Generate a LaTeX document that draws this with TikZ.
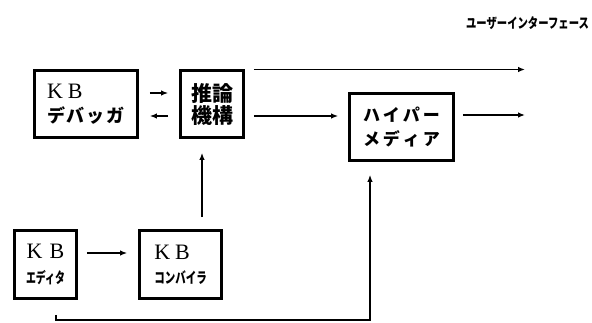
\documentclass[tikz,border=0pt]{standalone}
\usepackage{fontspec}
\usepackage{graphicx}
\usetikzlibrary{arrows.meta}
\newfontfamily\jp{Noto Sans CJK JP}
\newfontfamily\kbfont{Liberation Serif}
\newcommand\KBtext[1][5pt]{{\kbfont\fontsize{22}{22}\selectfont K\hspace{#1}B}}
\newcommand\jpb{\jp\bfseries}
\tikzset{
  box/.style={draw, line width=2.8pt, inner sep=0pt, align=left},
  arr/.style={line width=1.3pt, -{Latex[length=7pt,width=5.5pt]}},
}
\begin{document}
\begin{tikzpicture}[x=1pt,y=1pt]
\useasboundingbox (0,0) rectangle (592,322);
% title
\node (ui) at (527.5,299) {\scalebox{0.74}[1]{\jpb\fontsize{14}{14}\selectfont ユーザーインターフェース}};
% boxes
\node[box, minimum width=103, minimum height=67, font=\fontsize{18}{24}\selectfont] (deb) at (86,218)
  {\KBtext\\{\jpb デ\hspace{2pt}バ\hspace{2pt}ッ\hspace{2pt}ガ}};
\node[box, minimum width=63, minimum height=67, font=\fontsize{21}{22}\selectfont, align=center] (inf) at (212,218)
  {{\jpb 推論}\\{\jpb 機構}};
\node[box, minimum width=104, minimum height=67, font=\fontsize{17}{24}\selectfont, align=center] (hyp) at (401.5,195)
  {{\jpb ハ\hspace{3pt}イ\hspace{3pt}パ\hspace{3pt}ー}\\{\jpb メ\hspace{3pt}デ\hspace{3pt}ィ\hspace{3pt}ア}};
\node[box, minimum width=62, minimum height=68, font=\fontsize{15}{25}\selectfont, align=center] (edi) at (45.5,57.5)
  {\KBtext[7pt]\\{\scalebox{0.66}[1]{\jpb エディタ}}};
\node[box, minimum width=82, minimum height=68, font=\fontsize{15}{24}\selectfont] (com) at (180.5,57.5)
  {\KBtext\\{\scalebox{0.7}[1]{\jpb コンバイラ}}};
% helper coordinates
\coordinate (ui1) at (525,252.5);
\coordinate (ui2) at (525,207);
\coordinate (a1) at (0,229);
\coordinate (m1) at (0,206);
\coordinate (v1) at (202,0);
\coordinate (h1) at (0,69);
\coordinate (b1) at (56,2);
\coordinate (b2) at (370,2);
% connectors
\draw[arr, shorten <=11pt, shorten >=11pt] (a1 -| deb.east) -- (a1 -| inf.west);
\draw[arr, shorten <=11pt, shorten >=11pt] (m1 -| inf.west) -- (m1 -| deb.east);
\draw[arr, shorten <=9pt] (ui1 -| inf.east) -- (ui1);
\draw[arr, shorten <=9pt, shorten >=10pt] (m1 -| inf.east) -- (m1 -| hyp.west);
\draw[arr, shorten <=8pt] (ui2 -| hyp.east) -- (ui2);
\draw[arr, shorten <=12pt, shorten >=14pt] (v1 |- com.north) -- (v1 |- inf.south);
\draw[arr, shorten <=9pt, shorten >=11pt] (h1 -| edi.east) -- (h1 -| com.west);
\draw[arr, shorten <=15pt, shorten >=13pt] (b1 |- edi.south) -- (b1) -- (b2) -- (b2 |- hyp.south);
\end{tikzpicture}
\end{document}
